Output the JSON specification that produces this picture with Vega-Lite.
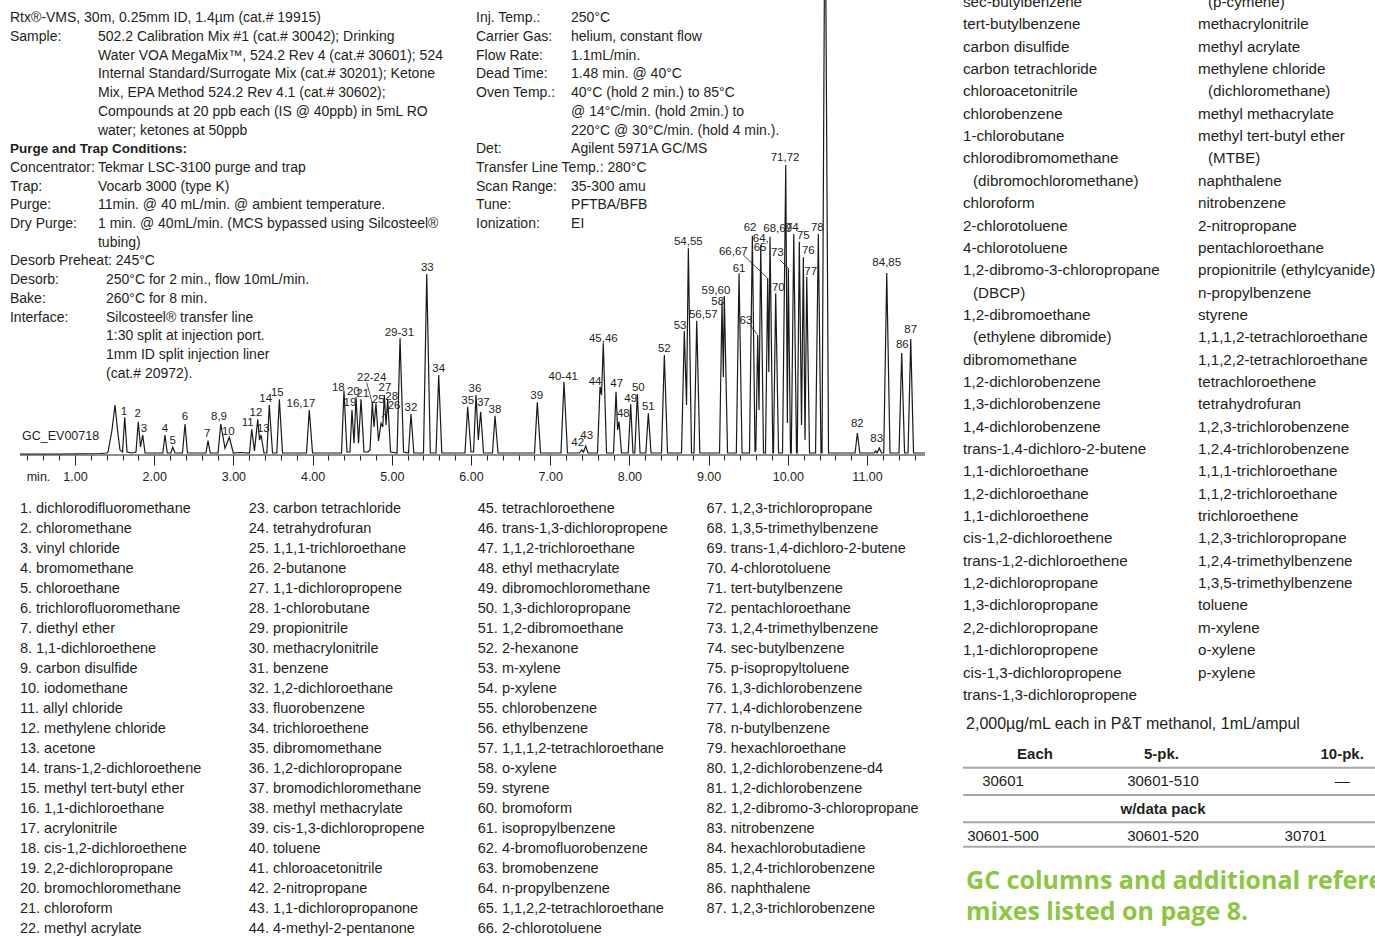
{
  "$schema": "https://vega.github.io/schema/vega-lite/v6.json",
  "padding": 0,
  "autosize": {"type": "pad"},
  "background": "white",
  "columns": 2,
  "align": "each",
  "bounds": "flush",
  "spacing": {"row": 7, "column": 38},
  "config": {
    "view": {"stroke": null},
    "text": {"font": "Liberation Sans", "color": "#231f20"}
  },
  "datasets": {
    "chrom": [
      {"t":0.306,"s":1},{"t":0.811,"s":1},{"t":1.316,"s":1.5},{"t":1.404,"s":2},
      {"t":1.417,"s":3},{"t":1.467,"s":25},{"t":1.505,"s":50},{"t":1.537,"s":25},{"t":1.568,"s":5},
      {"t":1.600,"s":3},{"t":1.628,"s":37.7},{"t":1.657,"s":3},
      {"t":1.720,"s":2},
      {"t":1.770,"s":3},{"t":1.799,"s":33.3},{"t":1.827,"s":8},{"t":1.855,"s":20},{"t":1.884,"s":2},
      {"t":2.073,"s":2},
      {"t":2.109,"s":2},{"t":2.136,"s":20},{"t":2.165,"s":2},
      {"t":2.210,"s":2},{"t":2.234,"s":7.7},{"t":2.263,"s":2},
      {"t":2.357,"s":2},{"t":2.389,"s":31},{"t":2.420,"s":2},
      {"t":2.654,"s":2},{"t":2.679,"s":14.3},{"t":2.708,"s":2},
      {"t":2.806,"s":2},{"t":2.840,"s":31},{"t":2.894,"s":6.7},{"t":2.948,"s":17.7},{"t":2.999,"s":2},
      {"t":3.083,"s":2.5},
      {"t":3.203,"s":2},{"t":3.231,"s":25.7},{"t":3.266,"s":4},{"t":3.307,"s":35.7},{"t":3.330,"s":15},{"t":3.349,"s":20},{"t":3.386,"s":2},
      {"t":3.422,"s":2},{"t":3.453,"s":50},{"t":3.494,"s":2},
      {"t":3.548,"s":2},{"t":3.580,"s":55.7},{"t":3.620,"s":2},
      {"t":3.778,"s":2},
      {"t":3.923,"s":2},{"t":3.958,"s":45},{"t":3.999,"s":2},
      {"t":4.283,"s":2},
      {"t":4.365,"s":2},{"t":4.396,"s":64.3},{"t":4.434,"s":3},
      {"t":4.472,"s":3},{"t":4.497,"s":45},{"t":4.523,"s":11.7},{"t":4.548,"s":57.7},{"t":4.580,"s":11.7},{"t":4.611,"s":55.7},{"t":4.649,"s":3},
      {"t":4.699,"s":3},
      {"t":4.725,"s":5},{"t":4.754,"s":53.3},{"t":4.775,"s":28},{"t":4.800,"s":51.7},{"t":4.832,"s":14},{"t":4.864,"s":31.7},{"t":4.886,"s":28},{"t":4.905,"s":60},{"t":4.927,"s":30},{"t":4.948,"s":55.7},{"t":4.984,"s":3},
      {"t":5.066,"s":2},{"t":5.104,"s":116.7},{"t":5.148,"s":3},
      {"t":5.211,"s":2},{"t":5.242,"s":41},{"t":5.278,"s":2},
      {"t":5.400,"s":2},{"t":5.441,"s":181},{"t":5.486,"s":2},
      {"t":5.558,"s":2},{"t":5.592,"s":80},{"t":5.631,"s":2},
      {"t":5.798,"s":2},
      {"t":5.924,"s":2},{"t":5.958,"s":48.3},{"t":6.000,"s":3},
      {"t":6.032,"s":3},{"t":6.063,"s":60},{"t":6.092,"s":15},{"t":6.122,"s":43.3},{"t":6.158,"s":2},
      {"t":6.271,"s":2},{"t":6.303,"s":39.3},{"t":6.341,"s":2},
      {"t":6.802,"s":2},{"t":6.837,"s":52.7},{"t":6.878,"s":2},
      {"t":7.136,"s":2},{"t":7.174,"s":73.3},{"t":7.218,"s":2},
      {"t":7.370,"s":2},{"t":7.398,"s":5},{"t":7.420,"s":3},{"t":7.448,"s":9},{"t":7.477,"s":2},
      {"t":7.597,"s":2},{"t":7.629,"s":68.3},{"t":7.648,"s":60},{"t":7.670,"s":111.7},{"t":7.711,"s":2},
      {"t":7.799,"s":2},{"t":7.831,"s":63.3},{"t":7.851,"s":25},{"t":7.869,"s":33.3},{"t":7.900,"s":2},
      {"t":7.985,"s":2},{"t":8.016,"s":50.7},{"t":8.045,"s":2},
      {"t":8.068,"s":2},{"t":8.100,"s":61},{"t":8.134,"s":2},
      {"t":8.207,"s":2},{"t":8.239,"s":41.7},{"t":8.273,"s":2},
      {"t":8.405,"s":2},{"t":8.441,"s":100},{"t":8.481,"s":2},
      {"t":8.658,"s":2},{"t":8.693,"s":124},{"t":8.721,"s":50},{"t":8.744,"s":206.7},{"t":8.784,"s":2},
      {"t":8.816,"s":2},{"t":8.850,"s":134.3},{"t":8.889,"s":2},
      {"t":9.138,"s":2},{"t":9.169,"s":153.3},{"t":9.186,"s":78},{"t":9.198,"s":159},{"t":9.239,"s":2},
      {"t":9.350,"s":2},{"t":9.384,"s":181.7},{"t":9.422,"s":2},
      {"t":9.516,"s":2},{"t":9.552,"s":219.3},{"t":9.586,"s":3},
      {"t":9.596,"s":5},{"t":9.620,"s":120},{"t":9.636,"s":45},{"t":9.658,"s":210},{"t":9.693,"s":2},
      {"t":9.718,"s":2},
      {"t":9.746,"s":176.7},{"t":9.760,"s":83},{"t":9.775,"s":218.3},{"t":9.811,"s":2},
      {"t":9.819,"s":2},{"t":9.847,"s":161.7},{"t":9.883,"s":2},
      {"t":9.933,"s":2},{"t":9.974,"s":290},{"t":9.994,"s":32},{"t":10.006,"s":186.7},{"t":10.034,"s":2},
      {"t":10.044,"s":2},{"t":10.075,"s":221},{"t":10.110,"s":2},
      {"t":10.119,"s":2},{"t":10.145,"s":213.3},{"t":10.173,"s":30},{"t":10.196,"s":197.7},{"t":10.217,"s":15},{"t":10.239,"s":178.3},{"t":10.274,"s":2},
      {"t":10.350,"s":2},{"t":10.385,"s":221},{"t":10.419,"s":2},
      {"t":10.432,"s":2},{"t":10.470,"s":600},{"t":10.514,"s":2},
      {"t":10.659,"s":2},
      {"t":10.849,"s":2},{"t":10.878,"s":22},{"t":10.909,"s":2},
      {"t":11.088,"s":2},{"t":11.110,"s":4},{"t":11.126,"s":2},{"t":11.155,"s":7},{"t":11.183,"s":2},
      {"t":11.211,"s":2},{"t":11.249,"s":182},{"t":11.290,"s":2},
      {"t":11.404,"s":2},{"t":11.438,"s":102},{"t":11.474,"s":2},
      {"t":11.518,"s":2},{"t":11.552,"s":116},{"t":11.587,"s":2},
      {"t":11.732,"s":2}
    ],
    "peaklabels": [
      {"t":1.619,"s":43.3,"label":"1"},{"t":1.792,"s":40.7,"label":"2"},{"t":1.871,"s":26,"label":"3"},
      {"t":2.136,"s":26,"label":"4"},{"t":2.234,"s":14.3,"label":"5"},{"t":2.389,"s":37.7,"label":"6"},
      {"t":2.670,"s":21,"label":"7"},{"t":2.818,"s":37.7,"label":"8,9"},{"t":2.936,"s":23.3,"label":"10"},
      {"t":3.180,"s":31.7,"label":"11"},{"t":3.285,"s":42.3,"label":"12"},{"t":3.377,"s":26,"label":"13"},
      {"t":3.408,"s":56,"label":"14"},{"t":3.554,"s":61.7,"label":"15"},{"t":3.853,"s":50.7,"label":"16,17"},
      {"t":4.324,"s":67.3,"label":"18"},{"t":4.472,"s":51.7,"label":"19"},{"t":4.514,"s":63.3,"label":"20"},
      {"t":4.633,"s":61,"label":"21"},{"t":4.746,"s":76.7,"label":"22-24"},{"t":4.830,"s":55,"label":"25"},
      {"t":4.914,"s":67.3,"label":"27"},{"t":4.999,"s":58.3,"label":"28"},{"t":5.028,"s":49,"label":"26"},
      {"t":5.095,"s":122.3,"label":"29-31"},{"t":5.242,"s":46.7,"label":"32"},{"t":5.448,"s":186.7,"label":"33"},
      {"t":5.592,"s":86,"label":"34"},{"t":5.958,"s":54.3,"label":"35"},{"t":6.050,"s":65.7,"label":"36"},
      {"t":6.155,"s":51.7,"label":"37"},{"t":6.303,"s":45,"label":"38"},{"t":6.829,"s":59.3,"label":"39"},
      {"t":7.165,"s":78.3,"label":"40-41"},{"t":7.347,"s":12.3,"label":"42"},{"t":7.461,"s":19.3,"label":"43"},
      {"t":7.566,"s":73.3,"label":"44"},{"t":7.670,"s":115.7,"label":"45,46"},{"t":7.840,"s":70.7,"label":"47"},
      {"t":7.923,"s":40.7,"label":"48"},{"t":8.016,"s":56,"label":"49"},{"t":8.112,"s":66.7,"label":"50"},
      {"t":8.239,"s":48.3,"label":"51"},{"t":8.441,"s":105.7,"label":"52"},{"t":8.639,"s":129.3,"label":"53"},
      {"t":8.744,"s":213.3,"label":"54,55"},{"t":8.933,"s":140,"label":"56,57"},{"t":9.115,"s":152.7,"label":"58"},
      {"t":9.093,"s":164,"label":"59,60"},{"t":9.384,"s":185.7,"label":"61"},{"t":9.523,"s":226.7,"label":"62"},
      {"t":9.472,"s":134,"label":"63"},{"t":9.658,"s":215.7,"label":"64,"},{"t":9.649,"s":206.7,"label":"65"},
      {"t":9.312,"s":203.3,"label":"66,67"},{"t":9.872,"s":226,"label":"68,69"},{"t":9.880,"s":166.7,"label":"70"},
      {"t":9.965,"s":296.7,"label":"71,72"},{"t":9.867,"s":201.7,"label":"73"},{"t":10.057,"s":227.3,"label":"74"},
      {"t":10.196,"s":219.3,"label":"75"},{"t":10.259,"s":204.3,"label":"76"},{"t":10.289,"s":183.3,"label":"77"},
      {"t":10.372,"s":227.3,"label":"78"},{"t":10.878,"s":31,"label":"82"},{"t":11.122,"s":15.7,"label":"83"},
      {"t":11.249,"s":191.7,"label":"84,85"},{"t":11.446,"s":110,"label":"86"},{"t":11.552,"s":125,"label":"87"}
    ],
    "leaders": [
      {"t":4.683,"s":72.3,"t2":4.754,"s2":51.7},
      {"t":4.965,"s":45,"t2":4.872,"s2":37.7},
      {"t":9.523,"s":130,"t2":9.615,"s2":120.7},
      {"t":9.438,"s":200,"t2":9.746,"s2":176.7},
      {"t":9.901,"s":195,"t2":10.006,"s2":186.7}
    ],
    "header": [
      {"t":0.179,"s":436.7,"text":"Rtx®-VMS, 30m, 0.25mm ID, 1.4µm (cat.# 19915)"},
      {"t":0.179,"s":418,"text":"Sample:"},
      {"t":1.290,"s":418,"text":"502.2 Calibration Mix #1 (cat.# 30042); Drinking"},
      {"t":1.290,"s":399.3,"text":"Water VOA MegaMix™, 524.2 Rev 4 (cat.# 30601); 524"},
      {"t":1.290,"s":380.6,"text":"Internal Standard/Surrogate Mix (cat.# 30201); Ketone"},
      {"t":1.290,"s":361.9,"text":"Mix, EPA Method 524.2 Rev 4.1 (cat.# 30602);"},
      {"t":1.290,"s":343.2,"text":"Compounds at 20 ppb each (IS @ 40ppb) in 5mL RO"},
      {"t":1.290,"s":324.5,"text":"water; ketones at 50ppb"},
      {"t":0.179,"s":287.1,"text":"Concentrator:"},
      {"t":1.290,"s":287.1,"text":"Tekmar LSC-3100 purge and trap"},
      {"t":0.179,"s":268.4,"text":"Trap:"},
      {"t":1.290,"s":268.4,"text":"Vocarb 3000 (type K)"},
      {"t":0.179,"s":249.7,"text":"Purge:"},
      {"t":1.290,"s":249.7,"text":"11min. @ 40 mL/min. @ ambient temperature."},
      {"t":0.179,"s":231,"text":"Dry Purge:"},
      {"t":1.290,"s":231,"text":"1 min. @ 40mL/min. (MCS bypassed using Silcosteel®"},
      {"t":1.290,"s":212.3,"text":"tubing)"},
      {"t":0.179,"s":193.6,"text":"Desorb Preheat: 245°C"},
      {"t":0.179,"s":174.9,"text":"Desorb:"},
      {"t":1.391,"s":174.9,"text":"250°C for 2 min., flow 10mL/min."},
      {"t":0.179,"s":156.2,"text":"Bake:"},
      {"t":1.391,"s":156.2,"text":"260°C for 8 min."},
      {"t":0.179,"s":137.5,"text":"Interface:"},
      {"t":1.391,"s":137.5,"text":"Silcosteel® transfer line"},
      {"t":1.391,"s":118.8,"text":"1:30 split at injection port."},
      {"t":1.391,"s":100.1,"text":"1mm ID split injection liner"},
      {"t":1.391,"s":81.4,"text":"(cat.# 20972)."},
      {"t":6.063,"s":436.7,"text":"Inj. Temp.:"},
      {"t":7.263,"s":436.7,"text":"250°C"},
      {"t":6.063,"s":418,"text":"Carrier Gas:"},
      {"t":7.263,"s":418,"text":"helium, constant flow"},
      {"t":6.063,"s":399.3,"text":"Flow Rate:"},
      {"t":7.263,"s":399.3,"text":"1.1mL/min."},
      {"t":6.063,"s":380.6,"text":"Dead Time:"},
      {"t":7.263,"s":380.6,"text":"1.48 min. @ 40°C"},
      {"t":6.063,"s":361.9,"text":"Oven Temp.:"},
      {"t":7.263,"s":361.9,"text":"40°C (hold 2 min.) to 85°C"},
      {"t":7.263,"s":343.2,"text":"@ 14°C/min. (hold 2min.) to"},
      {"t":7.263,"s":324.5,"text":"220°C @ 30°C/min. (hold 4 min.)."},
      {"t":6.063,"s":305.8,"text":"Det:"},
      {"t":7.263,"s":305.8,"text":"Agilent 5971A GC/MS"},
      {"t":6.063,"s":287.1,"text":"Transfer Line Temp.: 280°C"},
      {"t":6.063,"s":268.4,"text":"Scan Range:"},
      {"t":7.263,"s":268.4,"text":"35-300 amu"},
      {"t":6.063,"s":249.7,"text":"Tune:"},
      {"t":7.263,"s":249.7,"text":"PFTBA/BFB"},
      {"t":6.063,"s":231,"text":"Ionization:"},
      {"t":7.263,"s":231,"text":"EI"}
    ],
    "headerbold": [
      {"t":0.179,"s":305.8,"text":"Purge and Trap Conditions:"}
    ],
    "annot": [
      {"t":0.331,"s":19,"text":"GC_EV00718"},
      {"t":0.390,"s":-22,"text":"min."}
    ],
    "axisline": [{"t":0.306,"t2":11.732}],
    "compounds": [
      {"col":0,"row":0,"label":"1. dichlorodifluoromethane"},
      {"col":0,"row":1,"label":"2. chloromethane"},
      {"col":0,"row":2,"label":"3. vinyl chloride"},
      {"col":0,"row":3,"label":"4. bromomethane"},
      {"col":0,"row":4,"label":"5. chloroethane"},
      {"col":0,"row":5,"label":"6. trichlorofluoromethane"},
      {"col":0,"row":6,"label":"7. diethyl ether"},
      {"col":0,"row":7,"label":"8. 1,1-dichloroethene"},
      {"col":0,"row":8,"label":"9. carbon disulfide"},
      {"col":0,"row":9,"label":"10. iodomethane"},
      {"col":0,"row":10,"label":"11. allyl chloride"},
      {"col":0,"row":11,"label":"12. methylene chloride"},
      {"col":0,"row":12,"label":"13. acetone"},
      {"col":0,"row":13,"label":"14. trans-1,2-dichloroethene"},
      {"col":0,"row":14,"label":"15. methyl tert-butyl ether"},
      {"col":0,"row":15,"label":"16. 1,1-dichloroethane"},
      {"col":0,"row":16,"label":"17. acrylonitrile"},
      {"col":0,"row":17,"label":"18. cis-1,2-dichloroethene"},
      {"col":0,"row":18,"label":"19. 2,2-dichloropropane"},
      {"col":0,"row":19,"label":"20. bromochloromethane"},
      {"col":0,"row":20,"label":"21. chloroform"},
      {"col":0,"row":21,"label":"22. methyl acrylate"},
      {"col":1,"row":0,"label":"23. carbon tetrachloride"},
      {"col":1,"row":1,"label":"24. tetrahydrofuran"},
      {"col":1,"row":2,"label":"25. 1,1,1-trichloroethane"},
      {"col":1,"row":3,"label":"26. 2-butanone"},
      {"col":1,"row":4,"label":"27. 1,1-dichloropropene"},
      {"col":1,"row":5,"label":"28. 1-chlorobutane"},
      {"col":1,"row":6,"label":"29. propionitrile"},
      {"col":1,"row":7,"label":"30. methacrylonitrile"},
      {"col":1,"row":8,"label":"31. benzene"},
      {"col":1,"row":9,"label":"32. 1,2-dichloroethane"},
      {"col":1,"row":10,"label":"33. fluorobenzene"},
      {"col":1,"row":11,"label":"34. trichloroethene"},
      {"col":1,"row":12,"label":"35. dibromomethane"},
      {"col":1,"row":13,"label":"36. 1,2-dichloropropane"},
      {"col":1,"row":14,"label":"37. bromodichloromethane"},
      {"col":1,"row":15,"label":"38. methyl methacrylate"},
      {"col":1,"row":16,"label":"39. cis-1,3-dichloropropene"},
      {"col":1,"row":17,"label":"40. toluene"},
      {"col":1,"row":18,"label":"41. chloroacetonitrile"},
      {"col":1,"row":19,"label":"42. 2-nitropropane"},
      {"col":1,"row":20,"label":"43. 1,1-dichloropropanone"},
      {"col":1,"row":21,"label":"44. 4-methyl-2-pentanone"},
      {"col":2,"row":0,"label":"45. tetrachloroethene"},
      {"col":2,"row":1,"label":"46. trans-1,3-dichloropropene"},
      {"col":2,"row":2,"label":"47. 1,1,2-trichloroethane"},
      {"col":2,"row":3,"label":"48. ethyl methacrylate"},
      {"col":2,"row":4,"label":"49. dibromochloromethane"},
      {"col":2,"row":5,"label":"50. 1,3-dichloropropane"},
      {"col":2,"row":6,"label":"51. 1,2-dibromoethane"},
      {"col":2,"row":7,"label":"52. 2-hexanone"},
      {"col":2,"row":8,"label":"53. m-xylene"},
      {"col":2,"row":9,"label":"54. p-xylene"},
      {"col":2,"row":10,"label":"55. chlorobenzene"},
      {"col":2,"row":11,"label":"56. ethylbenzene"},
      {"col":2,"row":12,"label":"57. 1,1,1,2-tetrachloroethane"},
      {"col":2,"row":13,"label":"58. o-xylene"},
      {"col":2,"row":14,"label":"59. styrene"},
      {"col":2,"row":15,"label":"60. bromoform"},
      {"col":2,"row":16,"label":"61. isopropylbenzene"},
      {"col":2,"row":17,"label":"62. 4-bromofluorobenzene"},
      {"col":2,"row":18,"label":"63. bromobenzene"},
      {"col":2,"row":19,"label":"64. n-propylbenzene"},
      {"col":2,"row":20,"label":"65. 1,1,2,2-tetrachloroethane"},
      {"col":2,"row":21,"label":"66. 2-chlorotoluene"},
      {"col":3,"row":0,"label":"67. 1,2,3-trichloropropane"},
      {"col":3,"row":1,"label":"68. 1,3,5-trimethylbenzene"},
      {"col":3,"row":2,"label":"69. trans-1,4-dichloro-2-butene"},
      {"col":3,"row":3,"label":"70. 4-chlorotoluene"},
      {"col":3,"row":4,"label":"71. tert-butylbenzene"},
      {"col":3,"row":5,"label":"72. pentachloroethane"},
      {"col":3,"row":6,"label":"73. 1,2,4-trimethylbenzene"},
      {"col":3,"row":7,"label":"74. sec-butylbenzene"},
      {"col":3,"row":8,"label":"75. p-isopropyltoluene"},
      {"col":3,"row":9,"label":"76. 1,3-dichlorobenzene"},
      {"col":3,"row":10,"label":"77. 1,4-dichlorobenzene"},
      {"col":3,"row":11,"label":"78. n-butylbenzene"},
      {"col":3,"row":12,"label":"79. hexachloroethane"},
      {"col":3,"row":13,"label":"80. 1,2-dichlorobenzene-d4"},
      {"col":3,"row":14,"label":"81. 1,2-dichlorobenzene"},
      {"col":3,"row":15,"label":"82. 1,2-dibromo-3-chloropropane"},
      {"col":3,"row":16,"label":"83. nitrobenzene"},
      {"col":3,"row":17,"label":"84. hexachlorobutadiene"},
      {"col":3,"row":18,"label":"85. 1,2,4-trichlorobenzene"},
      {"col":3,"row":19,"label":"86. naphthalene"},
      {"col":3,"row":20,"label":"87. 1,2,3-trichlorobenzene"}
    ],
    "rightlist": [
      {"col":0,"row":0,"ind":0,"text":"sec-butylbenzene"},
      {"col":0,"row":1,"ind":0,"text":"tert-butylbenzene"},
      {"col":0,"row":2,"ind":0,"text":"carbon disulfide"},
      {"col":0,"row":3,"ind":0,"text":"carbon tetrachloride"},
      {"col":0,"row":4,"ind":0,"text":"chloroacetonitrile"},
      {"col":0,"row":5,"ind":0,"text":"chlorobenzene"},
      {"col":0,"row":6,"ind":0,"text":"1-chlorobutane"},
      {"col":0,"row":7,"ind":0,"text":"chlorodibromomethane"},
      {"col":0,"row":8,"ind":1,"text":"(dibromochloromethane)"},
      {"col":0,"row":9,"ind":0,"text":"chloroform"},
      {"col":0,"row":10,"ind":0,"text":"2-chlorotoluene"},
      {"col":0,"row":11,"ind":0,"text":"4-chlorotoluene"},
      {"col":0,"row":12,"ind":0,"text":"1,2-dibromo-3-chloropropane"},
      {"col":0,"row":13,"ind":1,"text":"(DBCP)"},
      {"col":0,"row":14,"ind":0,"text":"1,2-dibromoethane"},
      {"col":0,"row":15,"ind":1,"text":"(ethylene dibromide)"},
      {"col":0,"row":16,"ind":0,"text":"dibromomethane"},
      {"col":0,"row":17,"ind":0,"text":"1,2-dichlorobenzene"},
      {"col":0,"row":18,"ind":0,"text":"1,3-dichlorobenzene"},
      {"col":0,"row":19,"ind":0,"text":"1,4-dichlorobenzene"},
      {"col":0,"row":20,"ind":0,"text":"trans-1,4-dichloro-2-butene"},
      {"col":0,"row":21,"ind":0,"text":"1,1-dichloroethane"},
      {"col":0,"row":22,"ind":0,"text":"1,2-dichloroethane"},
      {"col":0,"row":23,"ind":0,"text":"1,1-dichloroethene"},
      {"col":0,"row":24,"ind":0,"text":"cis-1,2-dichloroethene"},
      {"col":0,"row":25,"ind":0,"text":"trans-1,2-dichloroethene"},
      {"col":0,"row":26,"ind":0,"text":"1,2-dichloropropane"},
      {"col":0,"row":27,"ind":0,"text":"1,3-dichloropropane"},
      {"col":0,"row":28,"ind":0,"text":"2,2-dichloropropane"},
      {"col":0,"row":29,"ind":0,"text":"1,1-dichloropropene"},
      {"col":0,"row":30,"ind":0,"text":"cis-1,3-dichloropropene"},
      {"col":0,"row":31,"ind":0,"text":"trans-1,3-dichloropropene"},
      {"col":1,"row":0,"ind":1,"text":"(p-cymene)"},
      {"col":1,"row":1,"ind":0,"text":"methacrylonitrile"},
      {"col":1,"row":2,"ind":0,"text":"methyl acrylate"},
      {"col":1,"row":3,"ind":0,"text":"methylene chloride"},
      {"col":1,"row":4,"ind":1,"text":"(dichloromethane)"},
      {"col":1,"row":5,"ind":0,"text":"methyl methacrylate"},
      {"col":1,"row":6,"ind":0,"text":"methyl tert-butyl ether"},
      {"col":1,"row":7,"ind":1,"text":"(MTBE)"},
      {"col":1,"row":8,"ind":0,"text":"naphthalene"},
      {"col":1,"row":9,"ind":0,"text":"nitrobenzene"},
      {"col":1,"row":10,"ind":0,"text":"2-nitropropane"},
      {"col":1,"row":11,"ind":0,"text":"pentachloroethane"},
      {"col":1,"row":12,"ind":0,"text":"propionitrile (ethylcyanide)"},
      {"col":1,"row":13,"ind":0,"text":"n-propylbenzene"},
      {"col":1,"row":14,"ind":0,"text":"styrene"},
      {"col":1,"row":15,"ind":0,"text":"1,1,1,2-tetrachloroethane"},
      {"col":1,"row":16,"ind":0,"text":"1,1,2,2-tetrachloroethane"},
      {"col":1,"row":17,"ind":0,"text":"tetrachloroethene"},
      {"col":1,"row":18,"ind":0,"text":"tetrahydrofuran"},
      {"col":1,"row":19,"ind":0,"text":"1,2,3-trichlorobenzene"},
      {"col":1,"row":20,"ind":0,"text":"1,2,4-trichlorobenzene"},
      {"col":1,"row":21,"ind":0,"text":"1,1,1-trichloroethane"},
      {"col":1,"row":22,"ind":0,"text":"1,1,2-trichloroethane"},
      {"col":1,"row":23,"ind":0,"text":"trichloroethene"},
      {"col":1,"row":24,"ind":0,"text":"1,2,3-trichloropropane"},
      {"col":1,"row":25,"ind":0,"text":"1,2,4-trimethylbenzene"},
      {"col":1,"row":26,"ind":0,"text":"1,3,5-trimethylbenzene"},
      {"col":1,"row":27,"ind":0,"text":"toluene"},
      {"col":1,"row":28,"ind":0,"text":"m-xylene"},
      {"col":1,"row":29,"ind":0,"text":"o-xylene"},
      {"col":1,"row":30,"ind":0,"text":"p-xylene"}
    ],
    "note": [
      {"c":-0.231,"r":-1.1,"text":"2,000µg/mL each in P&T methanol, 1mL/ampul"}
    ],
    "tablebody": [
      {"c":0,"r":1,"text":"30601"},
      {"c":1,"r":1,"text":"30601-510"},
      {"c":2.12,"r":1,"text":"—"},
      {"c":0,"r":3,"text":"30601-500"},
      {"c":1,"r":3,"text":"30601-520"},
      {"c":1.89,"r":3,"text":"30701"}
    ],
    "tablehead": [
      {"c":0.2,"r":0,"text":"Each"},
      {"c":0.99,"r":0,"text":"5-pk."},
      {"c":2.12,"r":0,"text":"10-pk."},
      {"c":1.0,"r":2,"text":"w/data pack"}
    ],
    "tablerules": [
      {"r":0.5},{"r":1.5},{"r":2.5},{"r":3.4}
    ],
    "green": [
      {"c":-0.231,"r":4.65,"text":"GC columns and additional reference"},
      {"c":-0.231,"r":5.79,"text":"mixes listed on page 8."}
    ]
  },
  "concat": [
    {
      "width": 925,
      "height": 455,
      "layer": [
        {
          "data": {"name": "chrom"},
          "mark": {"type": "line", "clip": true, "color": "#1a1a1a", "strokeWidth": 1.2},
          "encoding": {
            "x": {
              "field": "t", "type": "quantitative",
              "scale": {"domain": [0.053, 11.732], "nice": false, "zero": false},
              "axis": {
                "title": null,
                "domain": false,
                "grid": false,
                "tickCount": 200,
                "values": [0.4,0.6,0.8,1,1.2,1.4,1.6,1.8,2,2.2,2.4,2.6,2.8,3,3.2,3.4,3.6,3.8,4,4.2,4.4,4.6,4.8,5,5.2,5.4,5.6,5.8,6,6.2,6.4,6.6,6.8,7,7.2,7.4,7.6,7.8,8,8.2,8.4,8.6,8.8,9,9.2,9.4,9.6,9.8,10,10.2,10.4,10.6,10.8,11,11.2,11.4,11.6],
                "labelExpr": "abs(datum.value - round(datum.value)) < 0.01 ? format(datum.value, '.2f') : ''",
                "labelFont": "Liberation Sans",
                "labelFontSize": 12.5,
                "labelColor": "#231f20",
                "labelOverlap": false,
                "labelFlush": false,
                "labelPadding": 5,
                "tickColor": "#231f20",
                "tickWidth": 1,
                "tickSize": {"condition": {"test": "abs(datum.value - round(datum.value)) < 0.01", "value": 10}, "value": 5}
              }
            },
            "y": {
              "field": "s", "type": "quantitative",
              "scale": {"domain": [0, 455], "nice": false, "zero": false},
              "axis": null
            }
          }
        },
        {
          "data": {"name": "axisline"},
          "mark": {"type": "rule", "color": "#231f20", "strokeWidth": 1.2},
          "encoding": {
            "x": {"field": "t", "type": "quantitative"},
            "x2": {"field": "t2"},
            "y": {"datum": 0, "type": "quantitative"}
          }
        },
        {
          "data": {"name": "leaders"},
          "mark": {"type": "rule", "color": "#231f20", "strokeWidth": 0.8},
          "encoding": {
            "x": {"field": "t", "type": "quantitative"},
            "x2": {"field": "t2"},
            "y": {"field": "s", "type": "quantitative"},
            "y2": {"field": "s2"}
          }
        },
        {
          "data": {"name": "peaklabels"},
          "mark": {"type": "text", "align": "center", "baseline": "middle", "fontSize": 11.5},
          "encoding": {
            "x": {"field": "t", "type": "quantitative"},
            "y": {"field": "s", "type": "quantitative"},
            "text": {"field": "label"}
          }
        },
        {
          "data": {"name": "header"},
          "mark": {"type": "text", "align": "left", "baseline": "middle", "fontSize": 14},
          "encoding": {
            "x": {"field": "t", "type": "quantitative"},
            "y": {"field": "s", "type": "quantitative"},
            "text": {"field": "text"}
          }
        },
        {
          "data": {"name": "headerbold"},
          "mark": {"type": "text", "align": "left", "baseline": "middle", "fontSize": 13.5, "fontWeight": "bold"},
          "encoding": {
            "x": {"field": "t", "type": "quantitative"},
            "y": {"field": "s", "type": "quantitative"},
            "text": {"field": "text"}
          }
        },
        {
          "data": {"name": "annot"},
          "mark": {"type": "text", "align": "left", "baseline": "middle", "fontSize": 12.5},
          "encoding": {
            "x": {"field": "t", "type": "quantitative"},
            "y": {"field": "s", "type": "quantitative"},
            "text": {"field": "text"}
          }
        }
      ]
    },
    {
      "width": 412,
      "height": 455,
      "transform": [{"filter": "datum.row <= 20"}],
      "data": {"name": "rightlist"},
      "encoding": {
        "x": {"field": "col", "type": "quantitative", "scale": {"domain": [0, 1.753], "nice": false, "zero": false}, "axis": null},
        "y": {"field": "row", "type": "quantitative", "scale": {"domain": [-0.0895, 20.268], "reverse": true, "nice": false, "zero": false}, "axis": null},
        "text": {"field": "text"}
      },
      "layer": [
        {
          "transform": [{"filter": "datum.ind == 0"}],
          "mark": {"type": "text", "align": "left", "baseline": "middle", "fontSize": 15.2, "clip": true}
        },
        {
          "transform": [{"filter": "datum.ind == 1"}],
          "mark": {"type": "text", "align": "left", "baseline": "middle", "fontSize": 15.2, "dx": 10, "clip": true}
        }
      ]
    },
    {
      "width": 925,
      "height": 475,
      "data": {"name": "compounds"},
      "mark": {"type": "text", "align": "left", "baseline": "middle", "fontSize": 14.5},
      "encoding": {
        "x": {"field": "col", "type": "quantitative", "scale": {"domain": [-0.0869, 3.954], "nice": false, "zero": false}, "axis": null},
        "y": {"field": "row", "type": "quantitative", "scale": {"domain": [-2.35, 21.4], "reverse": true, "nice": false, "zero": false}, "axis": null},
        "text": {"field": "label"}
      }
    },
    {
      "width": 412,
      "height": 475,
      "resolve": {"scale": {"x": "independent", "y": "independent"}},
      "layer": [
        {
          "data": {"name": "rightlist"},
          "transform": [{"filter": "datum.row >= 21"}],
          "mark": {"type": "text", "align": "left", "baseline": "middle", "fontSize": 15.2},
          "encoding": {
            "x": {"field": "col", "type": "quantitative", "scale": {"domain": [0, 1.753], "nice": false, "zero": false}, "axis": null},
            "y": {"field": "row", "type": "quantitative", "scale": {"domain": [20.58, 41.835], "reverse": true, "nice": false, "zero": false}, "axis": null},
            "text": {"field": "text"}
          }
        },
        {
          "data": {"name": "note"},
          "mark": {"type": "text", "align": "left", "baseline": "middle", "fontSize": 16},
          "encoding": {
            "x": {"field": "c", "type": "quantitative", "scale": {"domain": [-0.25, 2.325], "nice": false, "zero": false}, "axis": null},
            "y": {"field": "r", "type": "quantitative", "scale": {"domain": [-10.696, 6.703], "reverse": true, "nice": false, "zero": false}, "axis": null},
            "text": {"field": "text"}
          }
        },
        {
          "data": {"name": "tablerules"},
          "mark": {"type": "rule", "color": "#a7a7a7", "strokeWidth": 2},
          "encoding": {
            "y": {"field": "r", "type": "quantitative", "scale": {"domain": [-10.696, 6.703], "reverse": true, "nice": false, "zero": false}, "axis": null}
          }
        },
        {
          "data": {"name": "tablebody"},
          "mark": {"type": "text", "align": "center", "baseline": "middle", "fontSize": 15},
          "encoding": {
            "x": {"field": "c", "type": "quantitative", "scale": {"domain": [-0.25, 2.325], "nice": false, "zero": false}, "axis": null},
            "y": {"field": "r", "type": "quantitative", "scale": {"domain": [-10.696, 6.703], "reverse": true, "nice": false, "zero": false}, "axis": null},
            "text": {"field": "text"}
          }
        },
        {
          "data": {"name": "tablehead"},
          "mark": {"type": "text", "align": "center", "baseline": "middle", "fontSize": 15, "fontWeight": "bold"},
          "encoding": {
            "x": {"field": "c", "type": "quantitative", "scale": {"domain": [-0.25, 2.325], "nice": false, "zero": false}, "axis": null},
            "y": {"field": "r", "type": "quantitative", "scale": {"domain": [-10.696, 6.703], "reverse": true, "nice": false, "zero": false}, "axis": null},
            "text": {"field": "text"}
          }
        },
        {
          "data": {"name": "green"},
          "mark": {"type": "text", "align": "left", "baseline": "middle", "fontSize": 25, "fontWeight": "bold", "font": "Open Sans", "color": "#8dc63f", "clip": true},
          "encoding": {
            "x": {"field": "c", "type": "quantitative", "scale": {"domain": [-0.25, 2.325], "nice": false, "zero": false}, "axis": null},
            "y": {"field": "r", "type": "quantitative", "scale": {"domain": [-10.696, 6.703], "reverse": true, "nice": false, "zero": false}, "axis": null},
            "text": {"field": "text"}
          }
        }
      ]
    }
  ]
}
